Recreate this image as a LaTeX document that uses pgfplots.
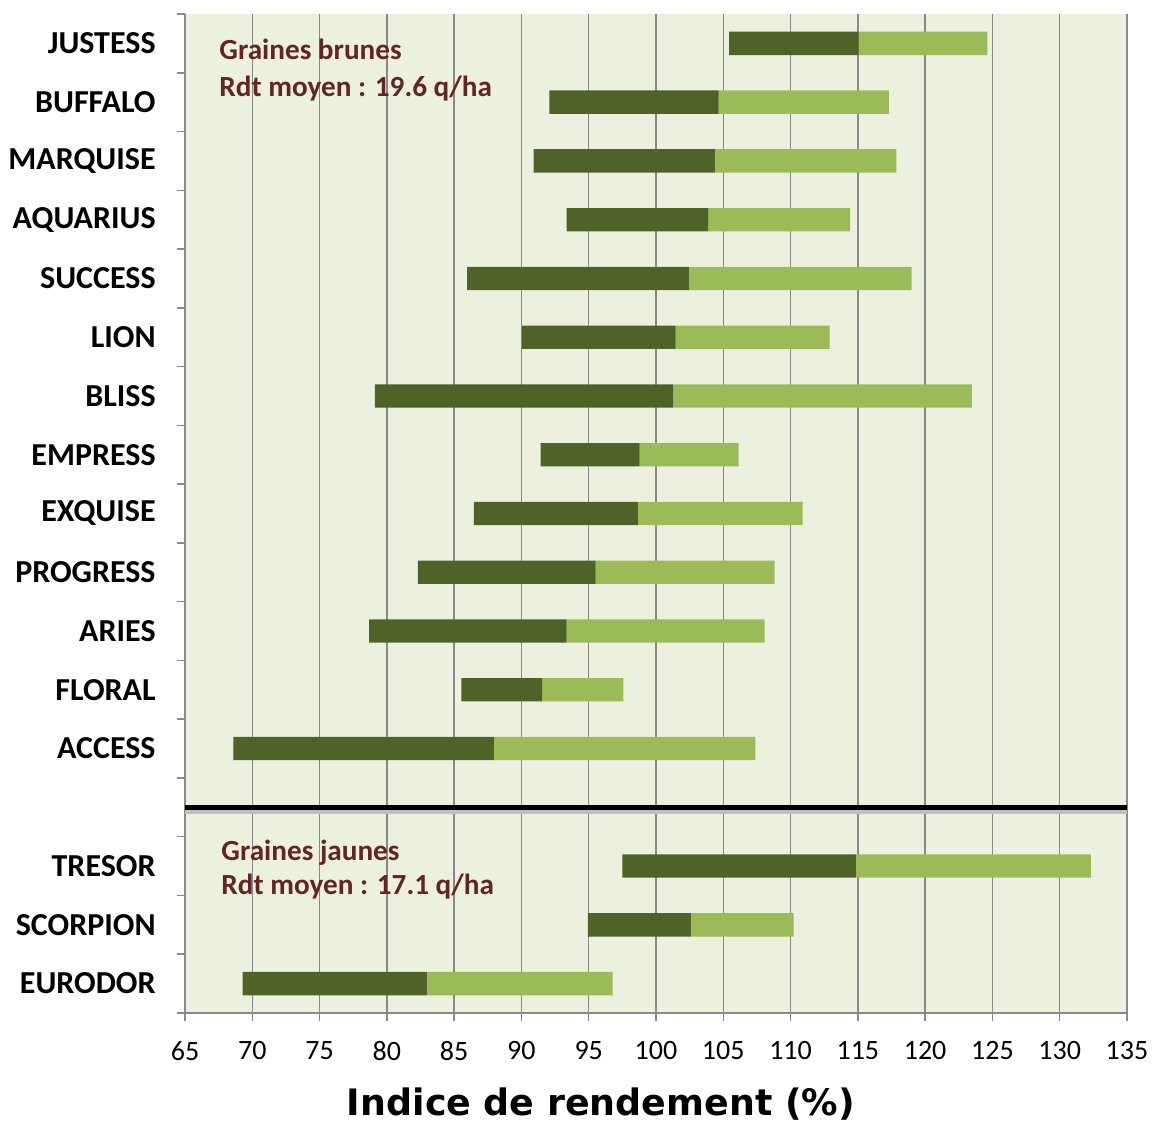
\documentclass[border=0pt]{standalone}
\usepackage{fontspec}
\setmainfont{Carlito}
\newfontfamily\dvs{DejaVu Sans}
\usepackage{pgfplots}
\pgfplotsset{compat=1.18}
\usepackage{pgfplotstable}
\definecolor{darkg}{HTML}{4F6228}
\definecolor{lightg}{HTML}{9BBB59}
\definecolor{bgc}{HTML}{EBF1DE}
\definecolor{txtc}{HTML}{632523}
\definecolor{axc}{HTML}{898989}

\pgfplotstableread{
y min mid max
16 105.44 115.05 124.63
15 92.08 104.66 117.31
14 90.91 104.38 117.86
13 93.36 103.88 114.43
12 85.97 102.44 118.99
11 90.05 101.46 112.91
10 79.11 101.27 123.47
9 91.42 98.78 106.14
8 86.47 98.66 110.89
7 82.31 95.51 108.82
6 78.68 93.36 108.08
5 85.54 91.53 97.57
4 68.60 87.95 107.38
2 97.50 114.86 132.31
1 94.93 102.60 110.22
0 69.28 82.98 96.78
}\datatable

\begin{document}
\begin{tikzpicture}
\useasboundingbox (0,0) rectangle (576.5pt,562pt);
\begin{axis}[
  at={(92.5pt,55.5pt)}, anchor=south west,
  width=471pt, height=499.5pt, scale only axis,
  xmin=65, xmax=135, ymin=-0.5, ymax=16.5,
  axis x line*=bottom, axis y line*=left,
  axis line style={axc, line width=0.75pt},
  axis background/.style={fill=bgc},
  xbar stacked, bar width=0.397,
  xtick={65,70,...,135},
  xmajorgrids, grid style={axc, line width=0.7pt},
  tick align=outside, major tick length=4pt,
  tick style={axc, line width=0.75pt},
  /pgf/number format/assume math mode=true,
  xticklabel style={font=\fontsize{14pt}{16pt}\selectfont, anchor=north, inner sep=0pt, yshift=-10pt},
  ytick={-0.5,0.5,...,16.5},
  yticklabel style={text opacity=0},
  extra y ticks={0,1,2,3,4,5,6,7,8,9,10,11,12,13,14,15,16},
  extra y tick labels={EURODOR,SCORPION,TRESOR,,ACCESS,FLORAL,ARIES,PROGRESS,EXQUISE,EMPRESS,BLISS,LION,SUCCESS,AQUARIUS,MARQUISE,BUFFALO,JUSTESS},
  extra y tick style={major tick length=0pt, yticklabel style={text opacity=1, font=\bfseries\fontsize{16pt}{19pt}\selectfont, anchor=east, inner sep=0pt, xshift=-14.5pt}},
  xlabel={\dvs\bfseries Indice de rendement (\%)},
  xlabel style={at={(axis description cs:0.4416,0)}, anchor=base, yshift=-51.5pt, font=\fontsize{18.2pt}{20pt}\selectfont},
]
\addplot[draw=none, fill=none] table[x=min, y=y] {\datatable};
\addplot[draw=none, fill=darkg] table[x expr=\thisrow{mid}-\thisrow{min}, y=y] {\datatable};
\addplot[draw=none, fill=lightg] table[x expr=\thisrow{max}-\thisrow{mid}, y=y] {\datatable};
\draw[black!25, line width=2pt] ([yshift=-2.5pt]axis cs:65,3) -- ([yshift=-2.5pt]axis cs:135,3);
\draw[black, line width=2.5pt] (axis cs:65,3) -- (axis cs:135,3);
\node[anchor=base west, inner sep=0pt, text=txtc, font=\bfseries\fontsize{14.6pt}{18pt}\selectfont] at (axis cs:67.53,15.72) {Graines brunes};
\node[anchor=base west, inner sep=0pt, text=txtc, font=\bfseries\fontsize{14.6pt}{18pt}\selectfont] at (axis cs:67.53,15.10) {Rdt moyen : 19.6 q/ha};
\node[anchor=base west, inner sep=0pt, text=txtc, font=\bfseries\fontsize{14.6pt}{18pt}\selectfont] at (axis cs:67.68,2.10) {Graines jaunes};
\node[anchor=base west, inner sep=0pt, text=txtc, font=\bfseries\fontsize{14.6pt}{18pt}\selectfont] at (axis cs:67.68,1.51) {Rdt moyen : 17.1 q/ha};
\end{axis}
\end{tikzpicture}
\end{document}
